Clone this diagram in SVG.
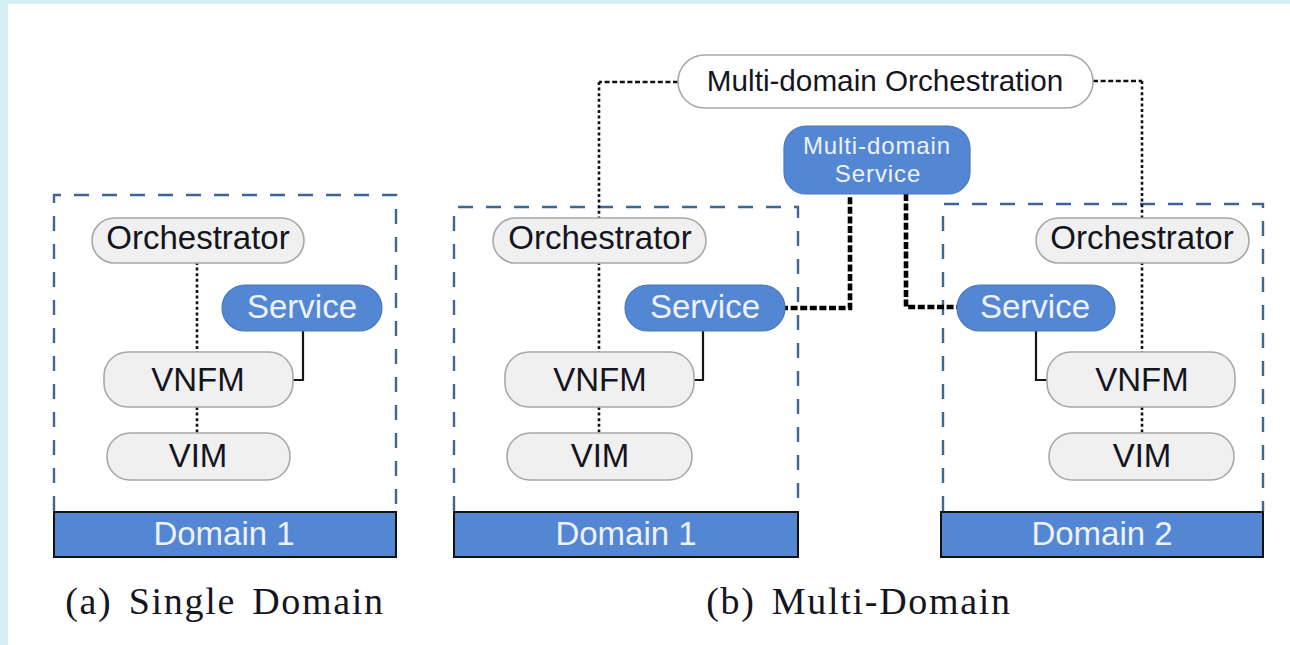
<svg xmlns="http://www.w3.org/2000/svg" width="1290" height="645" viewBox="0 0 1290 645">
<style>
text{font-family:"Liberation Sans",Arial,sans-serif;text-anchor:middle;fill:#15151f;font-size:33px}
.w{fill:#eef2fb}
.g{fill:#f0f0f0;stroke:#a8a8a8;stroke-width:1.6}
.b{fill:#5387d4;stroke:#4a78bb;stroke-width:1.2}
.d{fill:none;stroke:#3f6496;stroke-width:2.4;stroke-dasharray:15 13}
.bar{fill:#5387d4;stroke:#111;stroke-width:2}
.dot{fill:none;stroke:#111;stroke-width:2.6;stroke-dasharray:3 2.6}
.dash{fill:none;stroke:#111;stroke-width:2.4;stroke-dasharray:5 2.6}
.thick{fill:none;stroke:#000;stroke-width:4.6;stroke-dasharray:7 2.6}
.sol{fill:none;stroke:#151515;stroke-width:2.2}
.cap{font-family:"Liberation Serif","Times New Roman",serif;font-size:38px;letter-spacing:1.7px;word-spacing:5px}
.mds{font-size:24px;letter-spacing:.9px}
</style>
<rect width="1290" height="645" fill="#d4eef4"/>
<rect x="8" y="4" width="1282" height="641" fill="#fff"/>
<g id="containers">
<path class="d" d="M54 511V195H396V511"/>
<path class="d" d="M454 511V207H798V511"/>
<path class="d" d="M943 511V204H1263V511"/>
</g>
<g id="connectors">
<path class="dot" d="M197 262V353M197 407V433"/>
<path class="sol" d="M303 330V380H292"/>
<path class="dash" d="M678 82H599"/>
<path class="dot" d="M599 82V218M599 262V353M599 407V433"/>
<path class="sol" d="M703 330V380H693"/>
<path class="dash" d="M1093 81H1142"/>
<path class="dot" d="M1142 81V219M1142 262V352M1142 407V433"/>
<path class="sol" d="M1036 330V380H1047"/>
<path class="thick" d="M781 308H850V197"/>
<path class="thick" d="M906 194V307H958"/>
</g>
<g id="a-orchestrator"><rect class="g" x="92" y="218" width="212" height="45" rx="22.5"/><text x="198" y="249">Orchestrator</text></g>
<g id="a-service"><rect class="b" x="222" y="285" width="160" height="46" rx="23"/><text class="w" x="302" y="318">Service</text></g>
<g id="a-vnfm"><rect class="g" x="104" y="352" width="189" height="55" rx="24"/><text x="198" y="391">VNFM</text></g>
<g id="a-vim"><rect class="g" x="107" y="433" width="183" height="47" rx="23"/><text x="198" y="467">VIM</text></g>
<g id="a-domain"><rect class="bar" x="54" y="512" width="342" height="45"/><text class="w" x="224" y="545">Domain 1</text></g>
<text class="cap" x="225" y="614">(a) Single Domain</text>
<g id="mdo"><rect x="678" y="55" width="415" height="53" rx="26.5" fill="#fff" stroke="#a8a8a8" stroke-width="1.6"/><text x="885" y="91" style="font-size:29.7px">Multi-domain Orchestration</text></g>
<g id="mds"><rect class="b" x="784" y="126" width="186" height="68" rx="22"/><text class="w mds" x="877" y="154">Multi-domain</text><text class="w mds" x="878" y="182">Service</text></g>
<g id="b-orchestrator1"><rect class="g" x="493" y="218" width="213" height="45" rx="22.5"/><text x="600" y="249">Orchestrator</text></g>
<g id="b-service1"><rect class="b" x="625" y="285" width="160" height="46" rx="23"/><text class="w" x="705" y="318">Service</text></g>
<g id="b-vnfm1"><rect class="g" x="505" y="352" width="189" height="55" rx="24"/><text x="600" y="391">VNFM</text></g>
<g id="b-vim1"><rect class="g" x="507" y="433" width="185" height="47" rx="23"/><text x="600" y="467">VIM</text></g>
<g id="b-domain1"><rect class="bar" x="454" y="512" width="344" height="45"/><text class="w" x="626" y="545">Domain 1</text></g>
<g id="b-orchestrator2"><rect class="g" x="1036" y="218" width="213" height="45" rx="22.5"/><text x="1142" y="249">Orchestrator</text></g>
<g id="b-service2"><rect class="b" x="957" y="285" width="158" height="46" rx="23"/><text class="w" x="1035" y="318">Service</text></g>
<g id="b-vnfm2"><rect class="g" x="1047" y="352" width="188" height="55" rx="24"/><text x="1142" y="391">VNFM</text></g>
<g id="b-vim2"><rect class="g" x="1049" y="433" width="185" height="47" rx="23"/><text x="1142" y="467">VIM</text></g>
<g id="b-domain2"><rect class="bar" x="941" y="512" width="322" height="45"/><text class="w" x="1102" y="545">Domain 2</text></g>
<text class="cap" x="859" y="614">(b) Multi-Domain</text>
</svg>
